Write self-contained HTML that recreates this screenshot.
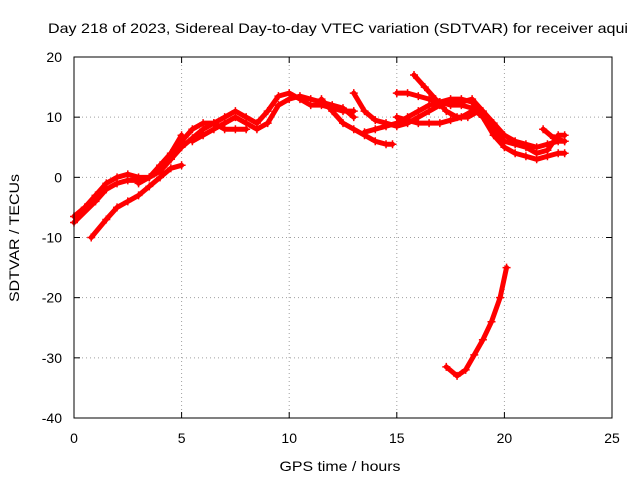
<!DOCTYPE html>
<html><head><meta charset="utf-8"><style>
body{margin:0;background:#fff;}
svg{font-family:"Liberation Sans",sans-serif;}
</style></head><body>
<svg id="chart" width="640" height="480">
<rect width="640" height="480" fill="#fff"/>
<text x="338" y="33" text-anchor="middle" font-size="14" textLength="580" lengthAdjust="spacingAndGlyphs">Day 218 of 2023, Sidereal Day-to-day VTEC variation (SDTVAR) for receiver aqui</text>
<text x="340" y="471" text-anchor="middle" font-size="14" textLength="121" lengthAdjust="spacingAndGlyphs">GPS time / hours</text>
<text x="19" y="238" text-anchor="middle" font-size="14" textLength="128" lengthAdjust="spacingAndGlyphs" transform="rotate(-90 19 238)">SDTVAR / TECUs</text>
<g id="grid"></g><g id="ticks"></g><g id="series"></g>
<rect x="74" y="57" width="538" height="361" fill="none" stroke="#000" stroke-width="1"/>
</svg>
<script>
const xTicks=[0,5,10,15,20,25];
const yTicks=[20,10,0,-10,-20,-30,-40];
const trackA=[[0,-7.5],[1,-4],[1.5,-2],[2,-1],[2.5,-0.5],[3,-0.5],[3.5,0],[4,1],[4.5,3],[5,6],[5.5,8],[6,9],[6.5,9],[7,8],[7.5,8],[8,8]];
const trackB=[[0,-6.5],[0.5,-5],[1,-3],[1.5,-1],[2,0],[2.5,0.5],[3,0],[3.5,0],[4,1.5],[4.5,3],[5,5],[5.5,6.5],[6,8],[6.5,9],[7,10],[7.5,11],[8,10],[8.5,9],[9,11],[9.5,13.5],[10,14],[10.5,13],[11,12],[11.5,12],[12,11.5],[12.5,11],[13,11]];
const trackC=[[0.8,-10],[1.5,-7],[2,-5],[2.5,-4],[3,-3],[3.5,-1.5],[4,0],[4.5,1.5],[5,2]];
const trackD=[[3,-1],[3.5,0],[4,2],[4.5,4],[5,7]];
const trackE=[[5.5,6],[6,7],[6.5,8],[7,9],[7.5,10],[8,9],[8.5,8],[9,9],[9.5,12],[10,13],[10.5,13.5],[11,13],[11.5,12.5],[12,12],[12.5,11.5],[13,10]];
const trackF=[[13,14],[13.5,11],[14,9.5],[14.5,9],[15,8.5],[15.5,9],[16,10],[16.5,11],[17,12],[17.5,12.5],[18,12.5],[18.5,13],[19,11],[19.5,9],[20,7],[20.5,6],[21,5.5],[21.5,5],[22,5.5],[22.5,6],[22.8,6]];
const trackG=[[11.5,13],[12,11],[12.5,9],[13,8],[13.5,7],[14,6],[14.5,5.5],[14.8,5.5]];
const trackH=[[13.5,7.5],[14,8],[14.5,8.5],[15,9],[15.5,10],[16,11],[16.5,12],[17,12.5],[17.5,13],[18,13],[18.5,12.5],[19,10],[19.5,7],[20,5],[20.5,4],[21,3.5],[21.5,3],[22,3.5],[22.5,4],[22.8,4]];
const trackI=[[15,14],[15.5,14],[16,13.5],[16.5,13],[17,12.5],[17.5,12],[18,12],[18.5,11.5],[19,10],[19.5,8],[20,6],[20.5,5.5],[21,5],[21.5,4],[22,4.5],[22.5,7],[22.8,7]];
const trackJ=[[15.8,17],[16.3,15],[16.8,13],[17.3,11],[17.8,10],[18.3,10],[18.8,11]];
const trackK=[[15,10],[15.5,9.5],[16,9],[16.5,9],[17,9],[17.5,9.5],[18,10],[18.5,11]];
const trackL=[[17.3,-31.5],[17.8,-33],[18.2,-32],[18.6,-29.5],[19,-27],[19.4,-24],[19.8,-20],[20.1,-15]];
const trackM=[[21.8,8],[22.3,6.5],[22.8,6]];
const tracks=[trackA,trackB,trackC,trackD,trackE,trackF,trackG,trackH,trackI,trackJ,trackK,trackL,trackM];
const X0=74,X1=612,Y0=418,Y1=57,xMin=0,xMax=25,yMin=-40,yMax=20;
const sx=v=>X0+(v-xMin)/(xMax-xMin)*(X1-X0);
const sy=v=>Y0-(v-yMin)/(yMax-yMin)*(Y0-Y1);
const NS="http://www.w3.org/2000/svg";
const grid=document.getElementById('grid'),ticks=document.getElementById('ticks'),ser=document.getElementById('series');
function mk(t,a,p){const e=document.createElementNS(NS,t);for(const k in a)e.setAttribute(k,a[k]);p.appendChild(e);return e;}
xTicks.forEach(v=>{
 const x=sx(v);
 if(v>xMin&&v<xMax){const g=mk('line',{x1:x,x2:x,y1:Y0,y2:Y1,stroke:'#a0a0a0','stroke-dasharray':'1,3'},grid);
 
 }
 mk('line',{x1:x,x2:x,y1:Y0,y2:Y0-6,stroke:'#000'},ticks);
 mk('line',{x1:x,x2:x,y1:Y1,y2:Y1+6,stroke:'#000'},ticks);
 const t=mk('text',{x:x,y:Y0+25,'text-anchor':'middle','font-size':14},ticks);t.textContent=v;
 
 
});
yTicks.forEach(v=>{
 const y=sy(v);
 if(v>yMin&&v<yMax){const g=mk('line',{x1:X0,x2:X1,y1:y,y2:y,stroke:'#a0a0a0','stroke-dasharray':'1,3'},grid);
 
 }
 mk('line',{x1:X0,x2:X0+6,y1:y,y2:y,stroke:'#000'},ticks);
 mk('line',{x1:X1,x2:X1-6,y1:y,y2:y,stroke:'#000'},ticks);
 const t=mk('text',{x:X0-12,y:y+5,'text-anchor':'end','font-size':14},ticks);t.textContent=v;
 
 
});
tracks.forEach(tr=>{
 const p=mk('polyline',{points:tr.map(d=>sx(d[0])+','+sy(d[1])).join(' '),fill:'none',stroke:'#f00','stroke-width':5,'stroke-linejoin':'round','stroke-linecap':'round'},ser);
 
 
 tr.forEach(d=>{
  const x=sx(d[0]),y=sy(d[1]);
  mk('path',{d:`M${x-4},${y}H${x+4}M${x},${y-4}V${y+4}`,stroke:'#f00','stroke-width':1.5},ser);
 });
});
</script>
</body></html>
